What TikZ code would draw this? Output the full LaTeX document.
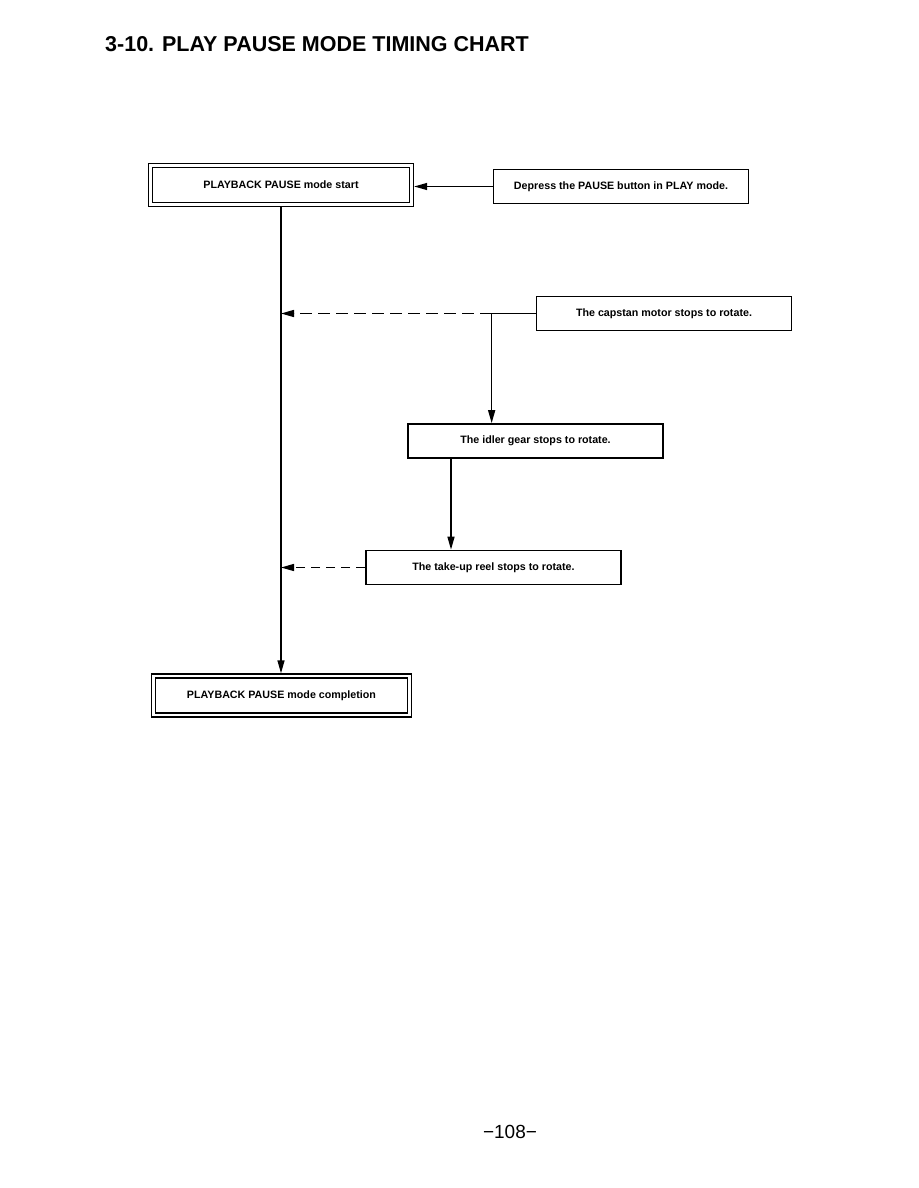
\documentclass[tikz,border=0pt]{standalone}
\usepackage{fontspec}
\setmainfont{Liberation Sans}
\usepackage{tikz}
\usetikzlibrary{shapes,arrows,arrows.meta,positioning}

\begin{document}
\begin{tikzpicture}[
    x=1pt, y=-1pt,
    font=\fontsize{10.7}{12}\selectfont\bfseries,
    modebox/.style={rectangle, draw, line width=1.5pt, double, double distance=2.4pt, outer sep=2.7pt, minimum width=#1, minimum height=39pt, inner sep=0pt},
    stepbox/.style={rectangle, draw, line width=1.7pt, minimum width=255pt, minimum height=34pt, inner sep=0pt},
    flow/.style={line width=1.4pt, -{Triangle[length=13pt,width=7pt]}},
    dashline/.style={dash pattern=on #1 off 6pt}
]
    \useasboundingbox (0,0) rectangle (918,1188);

    % Title
    \node[anchor=base west, font=\fontsize{21.5}{24}\selectfont\bfseries, inner sep=0pt] (title) at (105,52) {3-10. PLAY PAUSE MODE TIMING CHART};

    % Mode boxes
    \node[modebox=261pt] (start) at (281,185) {PLAYBACK PAUSE mode start};
    \node[modebox=256pt] (finish) at (281.5,695.5) {PLAYBACK PAUSE mode completion};

    % Steps
    \node[stepbox] (press) at (621,186.5) {Depress the PAUSE button in PLAY mode.};
    \node[stepbox] (capstan) at (664,313.5) {The capstan motor stops to rotate.};
    \node[stepbox] (idler) at (535.5,441) {The idler gear stops to rotate.};
    \node[stepbox] (takeup) at (493.5,567.5) {The take-up reel stops to rotate.};

    % Connectors
    \draw[flow] (press.west) -- (press.west -| start.east);
    \draw[flow] (start.south) -- (start.south |- finish.north);

    \coordinate (capsplit) at ([xshift=-44pt]capstan.west);
    \draw[line width=1.4pt] (capstan.west) -- (capsplit);
    \draw[flow, dashline=12pt] (capsplit) -- (capsplit -| start.south);
    \draw[flow] (capsplit) -- (capsplit |- idler.north);

    \coordinate (idlerdrop) at ([xshift=-84.5pt]idler.south);
    \draw[flow] (idlerdrop) -- (idlerdrop |- takeup.north);
    \draw[flow, dashline=9pt] (takeup.west) -- (takeup.west -| start.south);

    % Page number
    \node[anchor=base, font=\fontsize{19}{22}\selectfont] (page) at (510,1138) {−108−};
\end{tikzpicture}
\end{document}
